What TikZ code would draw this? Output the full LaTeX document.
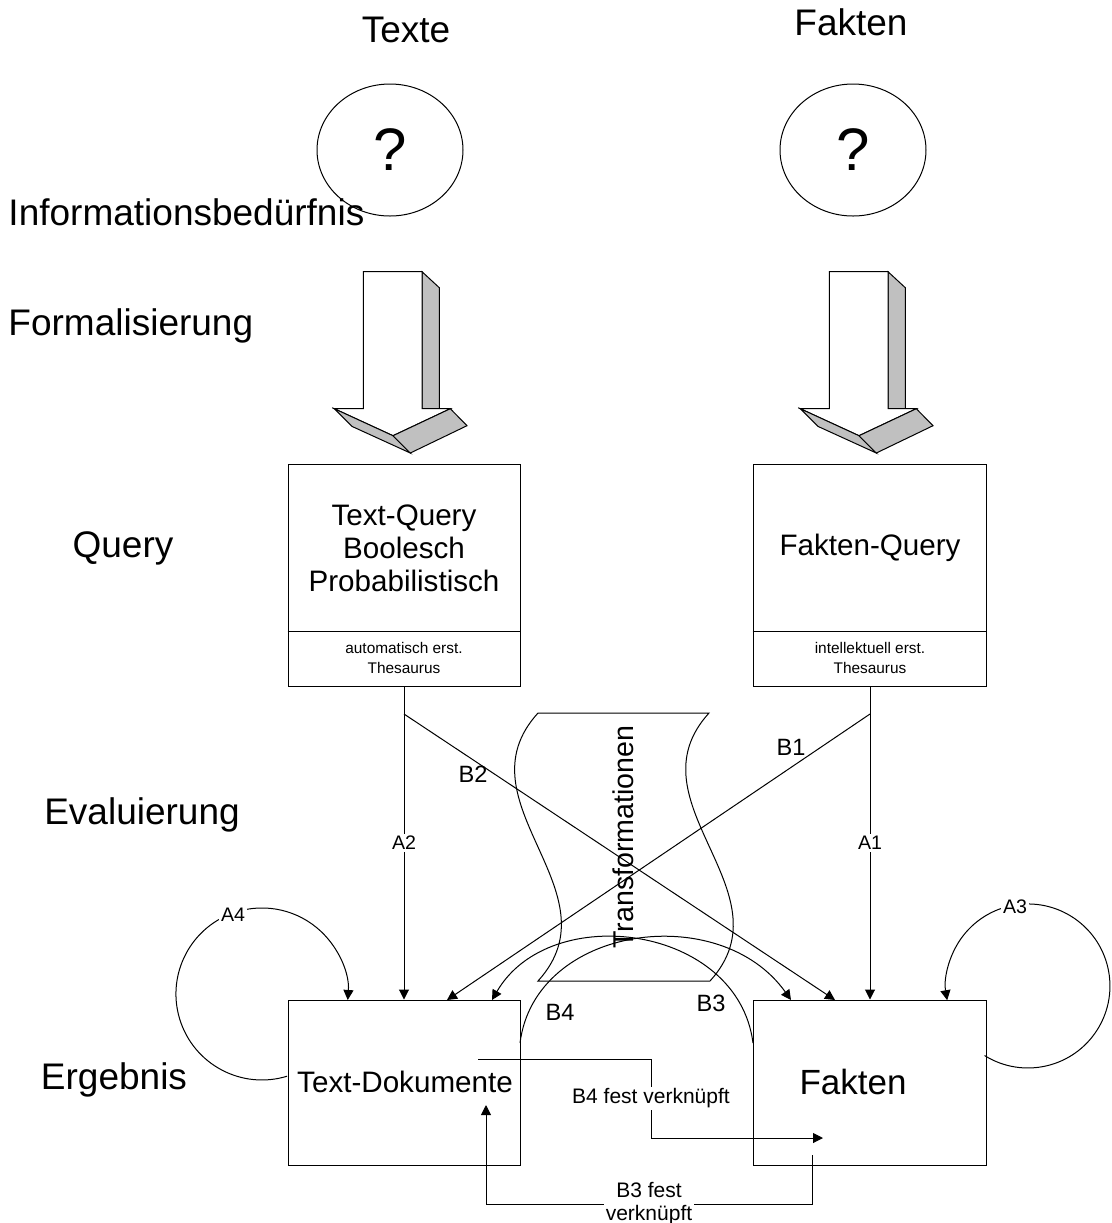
\documentclass[tikz,border=0pt]{standalone}
\usepackage{fontspec}
\setmainfont{Liberation Sans}
\usetikzlibrary{arrows.meta, shapes.geometric}
\definecolor{arrowshade}{RGB}{192,192,192}
\tikzset{
     %thin lines everywhere
    every picture/.style={line width=0.5pt},
    side-label/.style={
        font=\fontsize{18.5}{21}\selectfont,
    },
    need/.style={
        draw,
        ellipse,
        minimum width=73pt,
        minimum height=66pt,
        inner sep=0pt,
        font=\fontsize{30}{30}\selectfont,
    },
    query-box/.style={
        draw,
        minimum width=116pt,
        minimum height=111pt,
        inner sep=0pt,
    },
    result-box/.style={
        draw,
        minimum width=116pt,
        minimum height=82.5pt,
        inner sep=0pt,
    },
    box-text/.style={
        align=center,
        font=\fontsize{14.8}{16.5}\selectfont,
    },
    thes-text/.style={
        align=center,
        font=\fontsize{7.7}{10}\selectfont,
    },
    conn/.style={
        -{Triangle[length=5pt,width=5pt]},
    },
    a-label/.style={
        fill=white,
        inner sep=1pt,
        font=\fontsize{9.8}{11}\selectfont,
    },
    b-label/.style={
        inner sep=1pt,
        font=\fontsize{11.8}{13}\selectfont,
    },
    link-label/.style={
        fill=white,
        inner sep=1pt,
        align=center,
        font=\fontsize{10.5}{11.5}\selectfont,
    },
    blockarrow/.pic={
        % shaded side of the shaft
        \draw[fill=arrowshade] (58.7,0) -- (76,16) -- (76,137) -- (58.7,137) -- cycle;
        % front face
        \draw[fill=white] (0,0) -- (58.7,0) -- (58.7,137) -- (87,137) -- (29.7,164) -- (-29,137) -- (0,137) -- cycle;
        % head, lower faces
        \draw[fill=arrowshade] (-29,137) -- (29.7,164) -- (47,181.3) -- (-11.3,154.7) -- cycle;
        \draw[fill=arrowshade] (29.7,164) -- (87,137) -- (103.7,154) -- (47,181.3) -- cycle;
    },
}

\begin{document}
\begin{tikzpicture}[x=0.5pt,y=-0.5pt]
\useasboundingbox (0,0) rectangle (1112,1223);

% column titles
\node[side-label] (titletext) at (406,30) {Texte};
\node[side-label] (titlefact) at (851,22) {Fakten};

% row titles
\node[side-label, anchor=west, inner sep=0pt] (rowneed) at (8,212) {Informationsbedürfnis};
\node[side-label, anchor=west, inner sep=0pt] (rowformal) at (8,326) {Formalisierung};
\node[side-label] (rowquery) at (123,548) {Query};
\node[side-label] (roweval) at (142,815) {Evaluierung};
\node[side-label] (rowresult) at (114,1080) {Ergebnis};

% information need
\node[need] (needtext) at (390,150) {?};
\node[need] (needfact) at (853,150) {?};

% formalisation arrows
\pic (arrowtext) at (363.3,271.7) {blockarrow};
\pic (arrowfact) at (829.3,271.7) {blockarrow};

% queries
\node[query-box] (qtext) at (404,575) {};
\node[query-box, minimum width=116.5pt] (qfact) at (869.5,575) {};
\draw ([yshift=27.5pt]qtext.south west) -- ([yshift=27.5pt]qtext.south east);
\draw ([yshift=27.5pt]qfact.south west) -- ([yshift=27.5pt]qfact.south east);
\node[box-text] (qtextlabel) at (404,548) {Text-Query\\Boolesch\\Probabilistisch};
\node[box-text] (qfactlabel) at (870,548) {Fakten-Query};
\node[thes-text] (thestext) at (404,658) {automatisch erst.\\Thesaurus};
\node[thes-text] (thesfact) at (870,658) {intellektuell erst.\\Thesaurus};

% results
\node[result-box] (rtext) at (404,1082.5) {};
\node[result-box, minimum width=116.5pt] (rfact) at (869.5,1082.5) {};
\node[box-text] (rtextlabel) at (405,1082) {Text-Dokumente};
\node[box-text, font=\fontsize{17.5}{20}\selectfont] (rfactlabel) at (853,1082) {Fakten};

% transformations
\draw (538,713) -- (709,713) .. controls (628,802) and (791,892) .. (710,981) -- (538,981) .. controls (619,892) and (457,802) .. (538,713) -- cycle;
\node[box-text, font=\fontsize{14.3}{16}\selectfont, rotate=90] (transform) at (623,837) {Transformationen};

% direct evaluation
\draw[conn] (qtext.south) -- node[a-label] (lbla2) {A2} (rtext.north);
\draw[conn] (qfact.south -| 870,0) -- node[a-label] (lbla1) {A1} (rfact.north -| 870,0);

% crossed evaluation
\coordinate (b2start) at (404,714);
\coordinate (b2end) at (835,1000);
\coordinate (b1start) at (870,714);
\coordinate (b1end) at (447,1000);
\draw[conn] (b2start) -- (b2end);
\draw[conn] (b1start) -- (b1end);
\node[b-label] (lblb2) at (473,774) {B2};
\node[b-label] (lblb1) at (791,747) {B1};

% feedback loops
\coordinate (a4start) at (287.1,1076.2);
\coordinate (a3start) at (984.5,1055.5);
\draw[conn] (a4start) arc[start angle=73, end angle=364, radius=86];
\draw[conn] (a3start) arc[start angle=122, end angle=-190, radius=82];
\node[a-label] (lbla4) at (233,915) {A4};
\node[a-label] (lbla3) at (1015,907) {A3};

% cross arcs
\coordinate (b4start) at (520,1043);
\coordinate (b4end) at (791,1000);
\coordinate (b3start) at (753,1043);
\coordinate (b3end) at (492,1000);
\draw[conn] (b4start) .. controls (535,925) and (720,900) .. (b4end);
\draw[conn] (b3start) .. controls (738,925) and (550,900) .. (b3end);
\node[b-label] (lblb4) at (560,1012) {B4};
\node[b-label] (lblb3) at (711,1003) {B3};

% fixed links
\coordinate (b4fstart) at (478,1059);
\coordinate (b4fbend) at (651,1138);
\coordinate (b4fend) at (823,1138);
\draw[conn] (b4fstart) -| node[link-label, pos=0.75] (lblb4f) {B4 fest verknüpft} (b4fbend) -- (b4fend);
\coordinate (b3fstart) at (812,1155);
\coordinate (b3fbend) at (486,1204);
\coordinate (b3fend) at (486,1105);
\draw[conn] (b3fstart) |- node[link-label, pos=0.75] (lblb3f) {B3 fest\\verknüpft} (b3fbend) -- (b3fend);
\end{tikzpicture}
\end{document}
